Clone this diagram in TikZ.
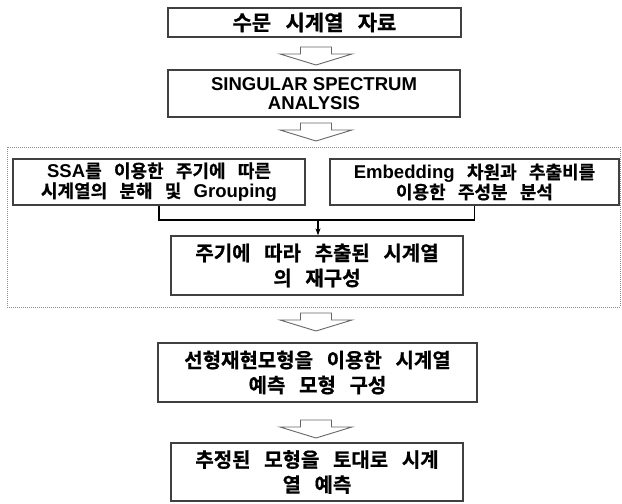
\documentclass[tikz,border=0pt]{standalone}
\usepackage{fontspec}
\setmainfont{Liberation Sans}
\newfontfamily\krf{Noto Sans CJK KR Bold}[WordSpace=3, FakeBold=0.7]
\newfontfamily\lat{Liberation Sans Bold}[Scale=1.03]
\usetikzlibrary{arrows.meta}
\tikzset{
  box/.style={draw=black!75, line width=1.3pt, fill=white, inner sep=0pt, align=center,
    font=\krf\fontsize{18}{20}\selectfont},
  bigtext/.style={font=\krf\fontsize{20}{25}\selectfont},
  hollow/.style={draw=black!60, line width=0.9pt, fill=white, line join=miter},
  conn/.style={draw=black, line width=1.6pt},
  dotbox/.style={draw=black!45, line width=0.8pt, dash pattern=on 0.8pt off 1.2pt}
}
\newcommand\harrow[2]{%
  \draw[hollow] (#1-15.5,#2) -- (#1+15.5,#2) -- (#1+15.5,#2+7) -- (#1+36,#2+7)
    -- (#1,#2+18) -- (#1-36,#2+7) -- (#1-15.5,#2+7) -- cycle;}
\begin{document}
\begin{tikzpicture}[x=1pt,y=-1pt]
\useasboundingbox (0,0) rectangle (622,504);
% dotted group frame
\draw[dotbox] (7,147) rectangle (620,307);
% boxes
\node[box, minimum width=293pt, minimum height=29pt,
      font=\krf\fontsize{21}{24}\selectfont] (b1) at (314.5,22.5) {수문 시계열 자료};
\node[box, minimum width=292pt, minimum height=47pt,
      font=\lat\fontsize{18}{19}\selectfont] (b2) at (314,93.5) {SINGULAR SPECTRUM\\ANALYSIS};
\node[box, minimum width=292pt, minimum height=46pt] (bA) at (159,182)
  {{\lat SSA}를 이용한 주기에 따른\\시계열의 분해 및 {\lat Grouping}};
\node[box, minimum width=289pt, minimum height=46pt] (bB) at (474.5,182)
  {{\lat Embedding} 차원과 추출비를\\이용한 주성분 분석};
\node[box, bigtext, minimum width=292pt, minimum height=59pt] (bC) at (317,265.5)
  {주기에 따라 추출된 시계열\\의 재구성};
\node[box, bigtext, minimum width=319pt, minimum height=59pt] (bD) at (317.5,372.5)
  {선형재현모형을 이용한 시계열\\예측 모형 구성};
\node[box, bigtext, minimum width=292pt, minimum height=58pt] (bE) at (317,472)
  {추정된 모형을 토대로 시계\\열 예측};
% hollow block arrows
\harrow{316}{47}
\harrow{316}{123}
\harrow{316}{313}
\harrow{316}{420}
% connectors
\coordinate (j) at (318,220);
\draw[conn] (bA.south) |- (j) -| (bB.south);
\draw[conn, line width=1.2pt, -{Stealth[length=7pt,width=5pt]}] (j) -- (j |- bC.north);
\end{tikzpicture}
\end{document}
